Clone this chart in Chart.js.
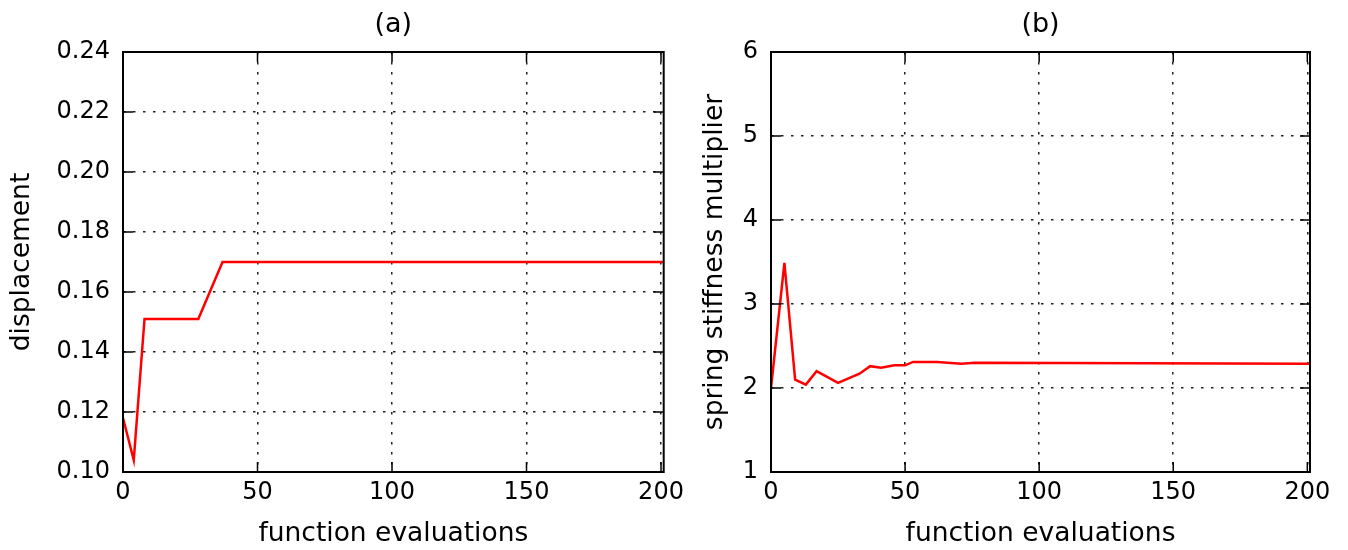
<!DOCTYPE html>
<html>
<head>
<meta charset="utf-8">
<script src="https://cdn.jsdelivr.net/npm/chart.js@4.4.0/dist/chart.umd.min.js"></script>
<style>
    html, body { margin: 0; padding: 0; background: #fff; }
    #wrap { position: relative; width: 1348px; height: 550px; }
    .box { position: absolute; top: 0; height: 550px; }
</style>
</head>
<body>
<div id="wrap">
    <div class="box" style="left:0;width:690px"><canvas id="chartA" width="690" height="550"></canvas></div>
    <div class="box" style="left:680px;width:668px"><canvas id="chartB" width="668" height="550"></canvas></div>
</div>
<script>
// (a) displacement
const evalsA = [0, 4, 8, 28, 37, 201];
const dispA = [0.118, 0.104, 0.151, 0.151, 0.170, 0.170];
const yTicksA = [0.10, 0.12, 0.14, 0.16, 0.18, 0.20, 0.22, 0.24];

// (b) spring stiffness multiplier
const evalsB = [0, 5, 9, 13, 17, 25, 33, 37, 41, 46, 50, 53, 62, 71, 76, 201];
const stiffB = [2.0, 3.49, 2.10, 2.04, 2.20, 2.06, 2.17, 2.26, 2.24, 2.27, 2.27, 2.31, 2.31, 2.29, 2.30, 2.29];
const yTicksB = [1, 2, 3, 4, 5, 6];

const xTicks = [0, 50, 100, 150, 200];

const FONT = 'DejaVu Sans';

// box around the axes, inward ticks, and the panel title
const framePlugin = {
    id: 'frame',
    afterDraw(chart, args, opts) {
        const { ctx, chartArea: a, scales } = chart;
        ctx.save();
        ctx.strokeStyle = '#000';
        ctx.lineWidth = 2;
        ctx.strokeRect(a.left, a.top, a.right - a.left, a.bottom - a.top);
        const len = 10;
        ctx.lineWidth = 1.5;
        ctx.beginPath();
        scales.x.ticks.forEach(t => {
            const px = scales.x.getPixelForValue(t.value);
            ctx.moveTo(px, a.bottom); ctx.lineTo(px, a.bottom - len);
            ctx.moveTo(px, a.top); ctx.lineTo(px, a.top + len);
        });
        scales.y.ticks.forEach(t => {
            const py = scales.y.getPixelForValue(t.value);
            ctx.moveTo(a.left, py); ctx.lineTo(a.left + len, py);
            ctx.moveTo(a.right, py); ctx.lineTo(a.right - len, py);
        });
        ctx.stroke();

        ctx.fillStyle = '#000';
        ctx.font = '27px "' + FONT + '"';
        ctx.textAlign = 'center';
        ctx.textBaseline = 'middle';
        ctx.fillText(opts.text, (a.left + a.right) / 2, a.top - 27);
        ctx.restore();
    }
};

function makeChart(id, xs, ys, yTicks, yLabel, title, yWidth, rightPad, yTitlePad, fmt) {
    new Chart(document.getElementById(id), {
        type: 'line',
        data: {
            datasets: [{
                data: xs.map((x, i) => ({ x: x, y: ys[i] })),
                borderColor: '#ff0000',
                borderWidth: 2.5,
                pointRadius: 0,
                tension: 0,
                fill: false
            }]
        },
        plugins: [framePlugin],
        options: {
            responsive: false,
            animation: false,
            devicePixelRatio: 1,
            layout: { padding: { top: 52, right: rightPad, left: 0, bottom: 0 } },
            plugins: {
                legend: { display: false },
                tooltip: { enabled: false },
                frame: { text: title }
            },
            scales: {
                x: {
                    type: 'linear',
                    min: 0,
                    max: 201,
                    afterBuildTicks: s => { s.ticks = xTicks.map(v => ({ value: v })); },
                    afterFit: s => { s.height = 78; },
                    ticks: {
                        font: { family: FONT, size: 24 },
                        color: '#000',
                        padding: 6,
                        maxRotation: 0
                    },
                    grid: { color: '#222', lineWidth: 1.5, drawTicks: false },
                    border: { display: false, dash: [2.5, 7.5] },
                    title: {
                        display: true,
                        text: 'function evaluations',
                        font: { family: FONT, size: 26.5 },
                        color: '#000',
                        padding: { top: 2, bottom: 0 }
                    }
                },
                y: {
                    type: 'linear',
                    min: yTicks[0],
                    max: yTicks[yTicks.length - 1],
                    afterBuildTicks: s => { s.ticks = yTicks.map(v => ({ value: v })); },
                    afterFit: s => { s.width = yWidth; },
                    ticks: {
                        font: { family: FONT, size: 24 },
                        color: '#000',
                        padding: 13,
                        callback: fmt
                    },
                    grid: { color: '#222', lineWidth: 1.5, drawTicks: false },
                    border: { display: false, dash: [2.5, 7.5] },
                    title: {
                        display: true,
                        text: yLabel,
                        font: { family: FONT, size: 26.5 },
                        color: '#000',
                        padding: { top: yTitlePad, bottom: 0 }
                    }
                }
            }
        }
    });
}

makeChart('chartA', evalsA, dispA, yTicksA, 'displacement', '(a)', 123, 17, 6, v => v.toFixed(2));
makeChart('chartB', evalsB, stiffB, yTicksB, 'spring stiffness multiplier', '(b)', 91, 38, 19, v => String(v));
</script>
</body>
</html>
